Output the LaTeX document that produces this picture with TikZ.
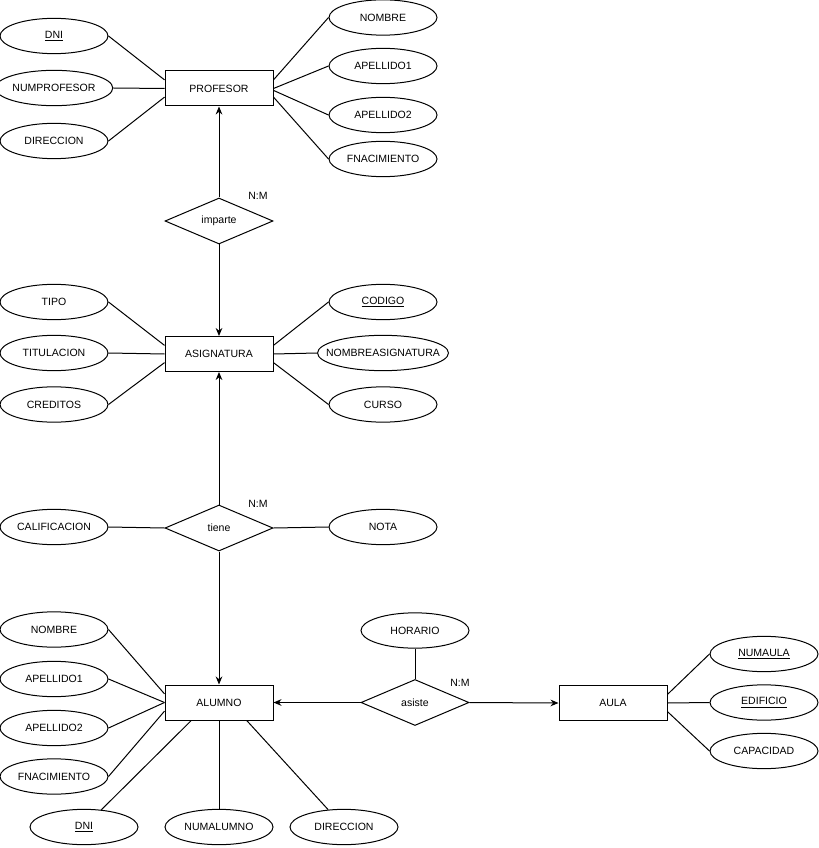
\documentclass[tikz,border=0pt]{standalone}
\usepackage{fontspec}
\setmainfont{Liberation Sans}
\usetikzlibrary{shapes.geometric,arrows.meta}

\begin{document}
\begin{tikzpicture}[x=0.75pt,y=-0.75pt,line width=0.75pt,
	every node/.style={font=\fontsize{7.9}{9.5}\selectfont},
	entidad/.style={draw,rectangle,minimum width=81pt,minimum height=26.25pt,inner sep=0},
	atributo/.style={draw,ellipse,minimum width=81pt,minimum height=26.5pt,inner sep=0},
	relacion/.style={draw,diamond,minimum width=81pt,minimum height=34.5pt,inner sep=0},
	flecha/.style={-{Stealth[length=6pt,width=5pt]}}]
\useasboundingbox (0,0) rectangle (818,848);
% entidades
\node[entidad] (prof) at (219,88.5) {PROFESOR};
\node[entidad] (asig) at (219,354) {ASIGNATURA};
\node[entidad] (alu) at (219,702.5) {ALUMNO};
\node[entidad] (aula) at (613,703) {AULA};
% relaciones
\node[relacion] (imparte) at (219,221) {imparte};
\node[relacion] (tiene) at (219,528) {tiene};
\node[relacion] (asiste) at (415,702.5) {asiste};
\node (nm1) at (258,196) {N:M};
\node (nm2) at (258,504) {N:M};
\node (nm3) at (460,683) {N:M};
% atributos de PROFESOR
\node[atributo] (pdni) at (54,36) {\underline{DNI}};
\node[atributo] (pnum) at (54,88) {NUMPROFESOR};
\node[atributo] (pdir) at (54,141) {DIRECCION};
\node[atributo] (pnom) at (383,17.5) {NOMBRE};
\node[atributo] (pap1) at (383,66) {APELLIDO1};
\node[atributo] (pap2) at (383,115) {APELLIDO2};
\node[atributo] (pfna) at (383,159) {FNACIMIENTO};
\draw (pdni.east) -- (prof.171);
\draw (pnum.east) -- (prof.west);
\draw (pdir.east) -- (prof.189);
\draw (pnom.west) -- (prof.9);
\draw (pap1.west) -- (prof.east);
\draw (pap2.west) -- (prof.-2);
\draw (pfna.west) -- (prof.-9);
% atributos de ASIGNATURA
\node[atributo] (tipo) at (54,302) {TIPO};
\node[atributo] (titu) at (54,353) {TITULACION};
\node[atributo] (cred) at (54,404.5) {CREDITOS};
\node[atributo] (cod) at (383,302) {\underline{CODIGO}};
\node[atributo,minimum width=97.5pt,inner xsep=-8pt] (anom) at (383,353) {NOMBREASIGNATURA};
\node[atributo] (curso) at (383,404.5) {CURSO};
\draw (tipo.east) -- (asig.171);
\draw (titu.east) -- (asig.west);
\draw (cred.east) -- (asig.189);
\draw (cod.west) -- (asig.9);
\draw (anom.west) -- (asig.east);
\draw (curso.west) -- (asig.-9);
% atributos de tiene
\node[atributo] (calif) at (54,527) {CALIFICACION};
\node[atributo] (nota) at (383,527) {NOTA};
\draw (calif.east) -- (tiene.west);
\draw (nota.west) -- (tiene.east);
% atributos de ALUMNO
\node[atributo] (anombre) at (54,629.5) {NOMBRE};
\node[atributo] (aap1) at (54,679) {APELLIDO1};
\node[atributo] (aap2) at (54,728) {APELLIDO2};
\node[atributo] (afna) at (54,776.5) {FNACIMIENTO};
\node[atributo] (adni) at (84,827) {\underline{DNI}};
\node[atributo] (anum) at (219,827) {NUMALUMNO};
\node[atributo] (adir) at (344,827) {DIRECCION};
\draw (anombre.east) -- (alu.171);
\draw (aap1.east) -- (alu.west);
\draw (aap2.east) -- (alu.west);
\draw (afna.east) -- (alu.189);
\draw (adni) -- (alu.213);
\draw (anum) -- (alu.south);
\draw (adir) -- (alu.-33);
% asiste y AULA
\node[atributo] (hora) at (415,630.5) {HORARIO};
\draw (hora) -- (asiste.north);
\node[atributo] (naula) at (764,654) {\underline{NUMAULA}};
\node[atributo] (edif) at (764,702.5) {\underline{EDIFICIO}};
\node[atributo] (capa) at (764,751) {CAPACIDAD};
\draw (naula.west) -- (aula.9);
\draw (edif.west) -- (aula.east);
\draw (capa.west) -- (aula.-9);
% flechas
\draw[flecha] (imparte.north) -- (prof.south);
\draw[flecha] (imparte.south) -- (asig.north);
\draw[flecha] (tiene.north) -- (asig.south);
\draw[flecha] (tiene.south) -- (alu.north);
\draw[flecha] (asiste.west) -- (alu.east);
\draw[flecha] (asiste.east) -- (aula.west);
\end{tikzpicture}
\end{document}
